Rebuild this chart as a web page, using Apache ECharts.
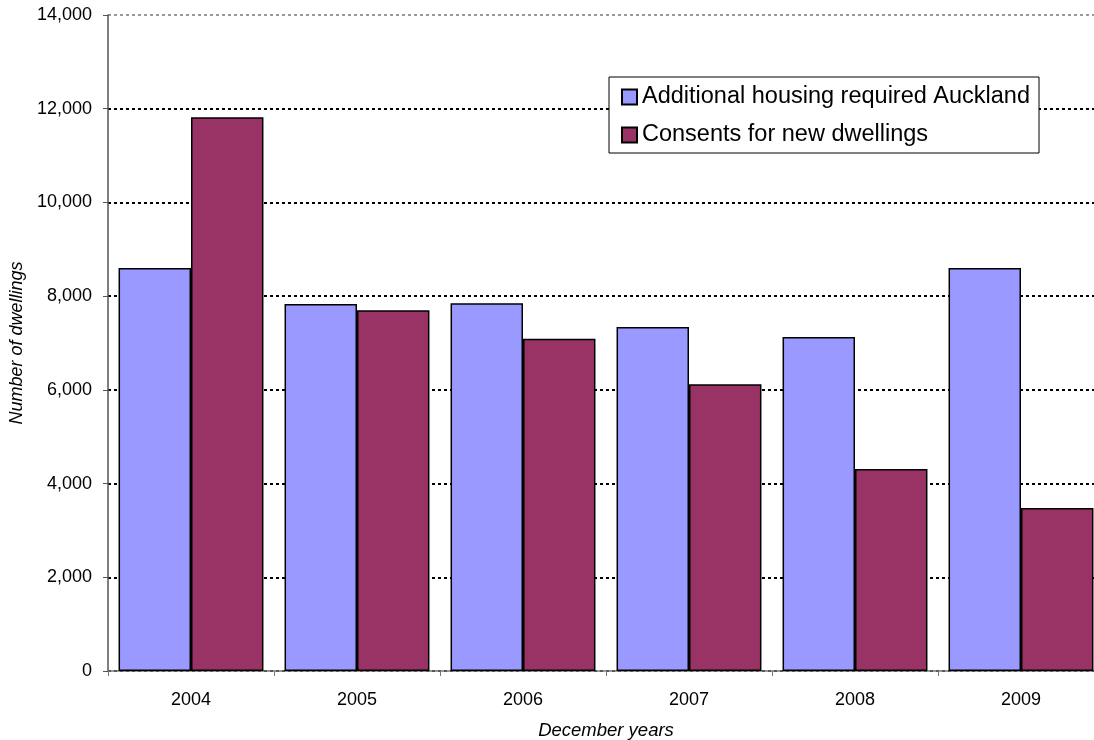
<!DOCTYPE html>
<html>
<head>
<meta charset="utf-8">
<script src="https://cdn.jsdelivr.net/npm/echarts@6/dist/echarts.min.js"></script>
<style>
html,body{margin:0;padding:0;background:#fff;}
#chart{width:1094px;height:740px;}
</style>
</head>
<body>
<div id="chart"></div>
<script>
const categories = ['2004', '2005', '2006', '2007', '2008', '2009'];
const housingRequired = [8600, 7830, 7850, 7340, 7130, 8600];
const consents = [11820, 7700, 7090, 6120, 4310, 3480];
const seriesNames = ['Additional housing required Auckland', 'Consents for new dwellings'];
const yTicks = [0, 2000, 4000, 6000, 8000, 10000, 12000, 14000];

const chart = echarts.init(document.getElementById('chart'), null, {renderer: 'canvas'});
const FONT = '"Liberation Sans", Arial, sans-serif';
chart.setOption({
  animation: false,
  backgroundColor: '#fff',
  textStyle: {fontFamily: FONT},
  grid: {left: 108, top: 15, width: 996, height: 656, containLabel: false, outerBoundsMode: 'none'},
  legend: {
    orient: 'vertical',
    left: 609, top: 77,
    backgroundColor: '#fff',
    borderColor: '#000',
    borderWidth: 1,
    padding: [8, 9, 6, 12],
    itemWidth: 15, itemHeight: 15,
    itemGap: 14,
    icon: 'rect',
    textStyle: {fontSize: 23.5, color: '#000', fontFamily: FONT},
    data: seriesNames
  },
  xAxis: {
    type: 'category',
    data: categories,
    name: 'December years',
    nameLocation: 'middle',
    nameGap: 50,
    nameTextStyle: {fontSize: 18.5, fontStyle: 'italic', color: '#000', fontFamily: FONT},
    axisLine: {lineStyle: {color: '#777', width: 1.5}},
    axisTick: {show: true, length: 5, lineStyle: {color: '#777'}},
    axisLabel: {fontSize: 18, color: '#000', margin: 20, fontFamily: FONT},
    splitLine: {show: false}
  },
  yAxis: {
    type: 'value',
    min: yTicks[0], max: yTicks[yTicks.length - 1], interval: 2000,
    name: 'Number of dwellings',
    nameLocation: 'middle',
    nameGap: 73,
    nameTextStyle: {fontSize: 18, fontStyle: 'italic', color: '#000', fontFamily: FONT},
    axisLine: {show: true, lineStyle: {color: '#555', width: 1.5}},
    axisTick: {show: true, length: 5, lineStyle: {color: '#555'}},
    axisLabel: {
      fontSize: 18, color: '#000', margin: 16, fontFamily: FONT,
      formatter: v => v.toLocaleString('en-US')
    },
    splitLine: {
      show: true,
      lineStyle: {
        color: ['#000', '#000', '#000', '#000', '#000', '#000', '#000', '#999'],
        width: 2,
        type: [3, 3]
      }
    }
  },
  series: [
    {
      name: seriesNames[0],
      type: 'bar',
      data: housingRequired,
      barGap: '0%',
      barCategoryGap: '12.7%',
      itemStyle: {color: '#9999FF', borderColor: '#000', borderWidth: 1.5}
    },
    {
      name: seriesNames[1],
      type: 'bar',
      data: consents,
      barGap: '0%',
      barCategoryGap: '12.7%',
      itemStyle: {color: '#993366', borderColor: '#000', borderWidth: 1.5}
    }
  ]
});
</script>
</body>
</html>
